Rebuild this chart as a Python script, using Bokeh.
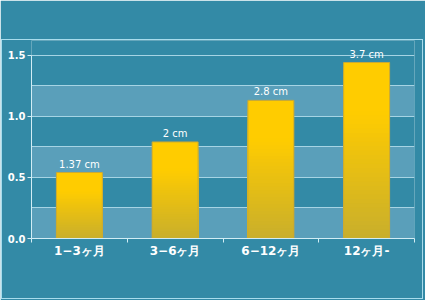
from bokeh.plotting import figure
from bokeh.models import (FixedTicker, Range1d, ColumnDataSource, LabelSet,
                          InlineStyleSheet, BoxAnnotation)
from bokeh.core.properties import value
from bokeh.embed import file_html
from bokeh.resources import INLINE

categories = ["1−3ヶ月", "3−6ヶ月", "6−12ヶ月", "12ヶ月-"]
values = [0.54, 0.79, 1.13, 1.44]
value_labels = ["1.37 cm", "2 cm", "2.8 cm", "3.7 cm"]
y_ticks = [0.0, 0.5, 1.0, 1.5]
grid_ticks = [0.0, 0.25, 0.5, 0.75, 1.0, 1.25, 1.5]
y_max = 1.5

BG = "#338aa6"
BAND = "#5a9fba"
GRID = "#a6d4e4"
AXIS = "#d2edf5"
FONT = "DejaVu Sans"

p = figure(width=425, height=300, output_backend="svg", toolbar_location=None,
           x_range=Range1d(0, len(categories)), y_range=Range1d(0, 1.62))
p.min_border_left = 31
p.min_border_right = 11
p.min_border_top = 40
p.min_border_bottom = 62
p.background_fill_color = BG
p.border_fill_color = BG
p.outline_line_color = None

# outer light border (decorative frame around the chart panel)
p.stylesheets = [InlineStyleSheet(css=(
    ":host{position:relative;}"
    ":host::after{content:'';position:absolute;left:1px;top:39px;width:420px;height:258px;"
    "border:1px solid #a8dcec;pointer-events:none;}"))]

# alternating bands (0-0.25, 0.5-0.75, 1.0-1.25), drawn beneath the grid lines
bands = [BoxAnnotation(bottom=grid_ticks[i], top=grid_ticks[i + 1], fill_color=BAND,
                       fill_alpha=1.0, line_color=None, level="underlay")
         for i in range(0, len(grid_ticks) - 1, 2)]
p.center = bands + list(p.center)

# grid
p.xgrid.visible = False
p.ygrid.ticker = FixedTicker(ticks=grid_ticks)
p.ygrid.grid_line_color = GRID
p.ygrid.grid_line_width = 1
p.ygrid.band_fill_color = None
p.ygrid.bounds = (0, y_max)

# bars with vertical gradient (overlapping slices, tallest first)
top_col = (255, 204, 0)
bot_col = (200, 174, 44)
N = 40
xs, tops, cols = [], [], []
for i, v in enumerate(values):
    for k in range(N - 1, -1, -1):
        f1 = (k + 1) / N
        fm = (k + 0.5) / N
        t = min(1.0, fm / 0.72)
        c = tuple(int(round(bot_col[j] + (top_col[j] - bot_col[j]) * t)) for j in range(3))
        xs.append(i + 0.5)
        tops.append(v * f1)
        cols.append("#%02x%02x%02x" % c)
p.vbar(x=xs, bottom=0, top=tops, width=0.48, fill_color=cols, line_color=None)

centers = [i + 0.5 for i in range(len(categories))]
p.vbar(x=centers, top=values, bottom=0, width=0.48, fill_color=None,
       line_color="#c9a935", line_width=1)

src = ColumnDataSource(dict(x=centers, y=values, t=value_labels))
p.add_layout(LabelSet(x="x", y="y", text="t", source=src, text_align="center",
                      text_baseline="bottom", y_offset=3, text_color="white",
                      text_font_size="10px", text_font=value(FONT)))

# y axis
p.yaxis.ticker = FixedTicker(ticks=y_ticks)
p.yaxis.bounds = (0, y_max)
p.yaxis.major_label_overrides = {t: "%.1f" % t for t in y_ticks}
p.yaxis.axis_line_color = AXIS
p.yaxis.major_tick_line_color = AXIS
p.yaxis.major_tick_out = 4
p.yaxis.major_tick_in = 0
p.yaxis.minor_tick_line_color = None
p.yaxis.major_label_standoff = 2
p.yaxis.major_label_text_color = "white"
p.yaxis.major_label_text_font = FONT
p.yaxis.major_label_text_font_size = "10px"
p.yaxis.major_label_text_font_style = "bold"

# x axis: labels at centers, ticks at boundaries
p.xaxis.ticker = FixedTicker(ticks=centers, minor_ticks=list(range(len(categories) + 1)))
p.xaxis.major_label_overrides = {c: lab for c, lab in zip(centers, categories)}
p.xaxis.axis_line_color = AXIS
p.xaxis.major_tick_line_color = None
p.xaxis.major_tick_out = 0
p.xaxis.major_tick_in = 0
p.xaxis.minor_tick_line_color = AXIS
p.xaxis.minor_tick_out = 4
p.xaxis.minor_tick_in = 0
p.xaxis.major_label_standoff = 1
p.xaxis.major_label_text_color = "white"
p.xaxis.major_label_text_font = FONT
p.xaxis.major_label_text_font_size = "12px"
p.xaxis.major_label_text_font_style = "bold"

open("out.html", "w").write(file_html(p, INLINE))
